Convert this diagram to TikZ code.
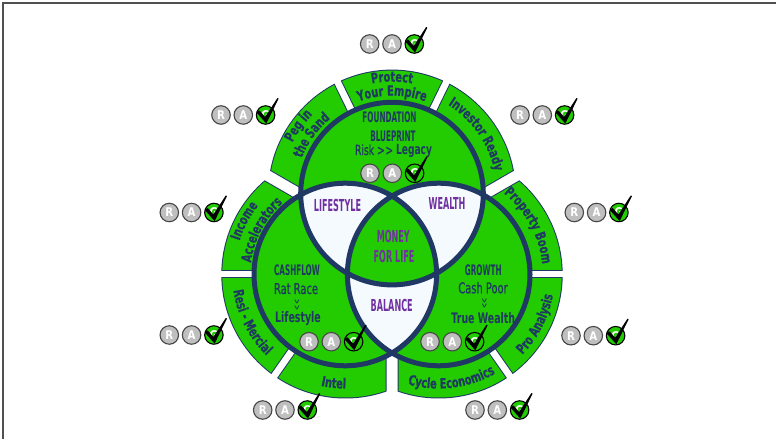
\documentclass[tikz,border=0pt]{standalone}
\usepackage{fontspec}
\usetikzlibrary{decorations.text}

% narrow faces for the labels
\newfontfamily\segf[FakeStretch=0.7,FakeBold=0.4]{DejaVu Sans}
\newfontfamily\midf[FakeStretch=0.65]{DejaVu Sans}
\newfontfamily\midr[FakeStretch=0.66,FakeBold=0.7]{DejaVu Sans}
\newfontfamily\capf[FakeStretch=0.5]{DejaVu Sans}
\newfontfamily\purf[FakeStretch=0.49]{DejaVu Sans}
\newfontfamily\ragf[FakeStretch=0.85]{DejaVu Sans}
\newcommand\segfont{\segf\bfseries\fontsize{14}{14}\selectfont}

\definecolor{leaf}{RGB}{34,204,0}
\definecolor{navy}{RGB}{31,56,100}
\definecolor{plum}{RGB}{112,48,160}
\definecolor{mist}{RGB}{245,250,255}
\definecolor{ragray}{RGB}{191,191,191}
\definecolor{ragedge}{RGB}{70,70,70}
\definecolor{framegray}{RGB}{80,80,80}

% clip to the left side of the line through #1 with direction #2, kept #3 away from it
\newcommand\hp[3]{\clip[shift={(#1)},rotate=#2] (-420,#3) -- (420,#3) -- (420,420) -- (-420,420) -- cycle;}

% one outer band piece around centre #1, cut by two half-planes
\newcommand\ringpart[7]{%
  \begin{scope}\hp{#2}{#3}{#4}\hp{#5}{#6}{#7}
    \fill[navy,even odd rule] (#1) circle[radius=124] (#1) circle[radius=86];
  \end{scope}
  \begin{scope}\hp{#2}{#3}{#4+1}\hp{#5}{#6}{#7+1}
    \fill[leaf,even odd rule] (#1) circle[radius=123] (#1) circle[radius=86];
  \end{scope}}

% curved label: centre, start angle, end angle, baseline radius, words
\newcommand\arclabel[5]{%
  \path[decorate,decoration={text along path,text align=center,text color=navy,
      text={|\segfont|#5}}]
    ([shift={(#2:#4)}]#1) arc[start angle=#2,end angle=#3,radius=#4];}

\tikzset{
  ragdot/.style={circle,draw=ragedge,line width=1.1pt,minimum size=18.5pt,inner sep=0pt,
    text=white,font=\ragf\bfseries\fontsize{12}{12}\selectfont},
  rag/.pic={
    \node[ragdot,fill=ragray] (-r) at (0,0) {R};
    \node[ragdot,fill=ragray] (-a) at (22.3,0) {A};
    \node[ragdot,fill=leaf,draw=black] (-g) at (44.6,0) {G};
    \fill[black,shift={(44.6,0)},rounded corners=0.4pt]
      (-9.0,2.4) -- (-6.3,4.7) -- (-0.5,-2.0) -- (11.9,17.1)
      -- (13.1,16.5) -- (0.7,-8.6) -- cycle;
  },
  capt/.style={inner sep=0pt,anchor=base,text=navy,font=\capf\bfseries\fontsize{14.5}{15}\selectfont},
  purp/.style={inner sep=0pt,anchor=base,text=plum,font=\purf\bfseries\fontsize{16.5}{17}\selectfont},
  midt/.style={inner sep=0pt,anchor=base,text=navy,font=\midr\fontsize{15}{15}\selectfont},
  midb/.style={inner sep=0pt,anchor=base,text=navy,font=\midf\bfseries\fontsize{14.5}{15}\selectfont},
  chev/.style={inner sep=0pt,rotate=-90,text=navy,font=\midf\bfseries\fontsize{9}{9}\selectfont},
}

\begin{document}
\begin{tikzpicture}[x=1pt,y=1pt]
\useasboundingbox (0,0) rectangle (776,439);

% page frame
\draw[framegray,line width=1.6pt] (3.2,0) -- (3.2,435.8) -- (776,435.8);

\coordinate (T) at (392,245.4);
\coordinate (L) at (345.3,164.5);
\coordinate (R) at (438.7,164.5);
\coordinate (G) at (392,191.5);
\def\rc{91.3}

% outer band pieces
\ringpart{T}{G}{30}{5.5}{T}{244}{3.5}   % Investor Ready
\ringpart{T}{T}{64}{3.5}{T}{296}{3.5}   % Protect Your Empire
\ringpart{T}{T}{116}{3.5}{G}{330}{5.5}  % Peg in the Sand
\ringpart{L}{G}{150}{5.5}{L}{0}{3.5}    % Income Accelerators
\ringpart{L}{L}{180}{3.5}{L}{55}{3.5}   % Resi - Mercial
\ringpart{L}{L}{235}{3.5}{G}{90}{5.5}   % Intel
\ringpart{R}{G}{270}{5.5}{R}{125}{3.5}  % Cycle Economics
\ringpart{R}{R}{305}{3.5}{R}{180}{3.5}  % Pro Analysis
\ringpart{R}{R}{0}{3.5}{G}{210}{5.5}    % Property Boom

% the three circles
\fill[leaf] (T) circle[radius=\rc] (L) circle[radius=\rc] (R) circle[radius=\rc];
\begin{scope}
  \clip (T) circle[radius=\rc];
  \fill[mist] (L) circle[radius=\rc] (R) circle[radius=\rc];
\end{scope}
\begin{scope}
  \clip (L) circle[radius=\rc];
  \fill[mist] (R) circle[radius=\rc];
\end{scope}
\begin{scope}
  \clip (T) circle[radius=\rc];
  \clip (L) circle[radius=\rc];
  \fill[leaf] (R) circle[radius=\rc];
\end{scope}
\draw[navy,line width=5pt] (T) circle[radius=\rc] (L) circle[radius=\rc] (R) circle[radius=\rc];

% band labels
\arclabel{T}{140}{40}{112}{Protect}
\arclabel{T}{140}{40}{98}{Your Empire}
\arclabel{T}{194}{94}{112}{Peg in}
\arclabel{T}{194}{94}{97}{the Sand}
\arclabel{T}{85}{-15}{105}{Investor Ready}
\arclabel{R}{78.5}{-21.5}{104}{Property Boom}
\arclabel{R}{-77}{23}{116}{Pro Analysis}
\arclabel{R}{-133}{-33}{114}{Cycle Economics}
\arclabel{L}{214}{314}{114}{Intel}
\arclabel{L}{157}{257}{113}{Resi - Mercial}
\arclabel{L}{202}{102}{111}{Income}
\arclabel{L}{202}{102}{95}{Accelerators}

% circle texts
\node[capt] (found) at (389.5,316) {FOUNDATION};
\node[capt] (blue) at (393,297) {BLUEPRINT};
\node[midt,font=\midr\fontsize{14}{14}\selectfont] (risk) at (393.5,284) {Risk >\kern0.6pt> {\midf\bfseries Legacy}};

\node[capt] (cash) at (297,163) {CASHFLOW};
\node[midt] (rat) at (296,145) {Rat Race};
\node[chev] (chl) at (296.7,134) {>\kern0.3pt>};
\node[midb] (life) at (298,116.5) {Lifestyle};

\node[capt] (grow) at (483.3,163) {GROWTH};
\node[midt] (poor) at (483,145.7) {Cash Poor};
\node[chev] (chr) at (484.3,135.5) {>\kern0.3pt>};
\node[midb] (true) at (483.3,115) {True Wealth};

\node[purp] (lstyle) at (337.5,227) {LIFESTYLE};
\node[purp] (wealth) at (447,229) {WEALTH};
\node[purp] (money) at (393.3,196) {MONEY};
\node[purp] (forlife) at (394,176.3) {FOR LIFE};
\node[purp] (balance) at (391.7,127) {BALANCE};

% status markers
\pic (ragtop)  at (369.7,395)   {rag};
\pic (ragfnd)  at (370,265.7)   {rag};
\pic (ragpeg)  at (221,324)     {rag};
\pic (raginv)  at (520,324)     {rag};
\pic (raginc)  at (169.3,226.5) {rag};
\pic (ragprop) at (574.3,226.5) {rag};
\pic (ragresi) at (169.3,104)   {rag};
\pic (ragpro)  at (571,103.3)   {rag};
\pic (ragcash) at (309,97.3)    {rag};
\pic (raggrow) at (430,97.3)    {rag};
\pic (ragint)  at (262.7,29)    {rag};
\pic (ragcyc)  at (475,29)      {rag};
\end{tikzpicture}
\end{document}
